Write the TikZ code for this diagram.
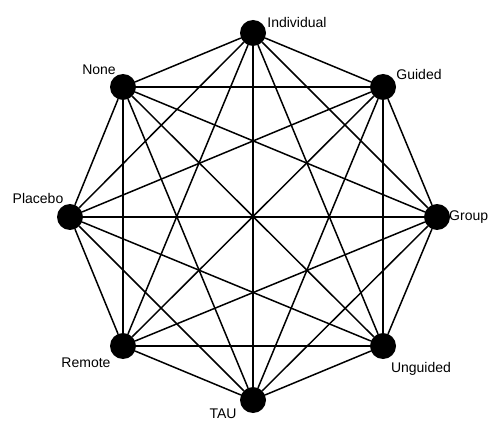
\documentclass[tikz,border=0pt]{standalone}
\usepackage{fontspec}
\setmainfont{Liberation Sans}
\usetikzlibrary{positioning}
\tikzstyle{Edge} = [
    line width = 1.5pt,
    black
]

\begin{document}
\begin{tikzpicture}[
x = 1pt, y = 1pt,
vertex/.style = {
    circle,
    fill = black,
    minimum size = 26pt,
    inner sep = 0pt
    },
tag/.style = {
    font = \fontsize{14}{16}\selectfont,
    inner sep = 0pt
    }
]
\useasboundingbox (0,0) rectangle (490,421);

\node [vertex] (1) at (253,388) {};
\node [vertex] (2) at (383,334) {};
\node [vertex] (3) at (437,204) {};
\node [vertex] (4) at (383,75) {};
\node [vertex] (5) at (253,21) {};
\node [vertex] (6) at (123,75) {};
\node [vertex] (7) at (70,204) {};
\node [vertex] (8) at (123,334) {};

\node [tag] (l1) at (297,399) {Individual};
\node [tag] (l2) at (419,347) {Guided};
\node [tag, anchor = west] (l3) at (449,204) {Group};
\node [tag] (l4) at (421,52) {Unguided};
\node [tag] (l5) at (223,7) {TAU};
\node [tag] (l6) at (86,58) {Remote};
\node [tag] (l7) at (38,223) {Placebo};
\node [tag] (l8) at (99,351) {None};

\draw[Edge] (1) -- (2);
\draw[Edge] (1) -- (3);
\draw[Edge] (1) -- (4);
\draw[Edge] (1) -- (5);
\draw[Edge] (1) -- (6);
\draw[Edge] (1) -- (7);
\draw[Edge] (1) -- (8);

\draw[Edge] (2) -- (3);
\draw[Edge] (2) -- (4);
\draw[Edge] (2) -- (5);
\draw[Edge] (2) -- (6);
\draw[Edge] (2) -- (7);
\draw[Edge] (2) -- (8);

\draw[Edge] (3) -- (4);
\draw[Edge] (3) -- (5);
\draw[Edge] (3) -- (6);
\draw[Edge] (3) -- (7);
\draw[Edge] (3) -- (8);

\draw[Edge] (4) -- (5);
\draw[Edge] (4) -- (6);
\draw[Edge] (4) -- (7);
\draw[Edge] (4) -- (8);

\draw[Edge] (5) -- (6);
\draw[Edge] (5) -- (7);
\draw[Edge] (5) -- (8);

\draw[Edge] (6) -- (7);
\draw[Edge] (6) -- (8);

\draw[Edge] (7) -- (8);

\end{tikzpicture}
\end{document}
